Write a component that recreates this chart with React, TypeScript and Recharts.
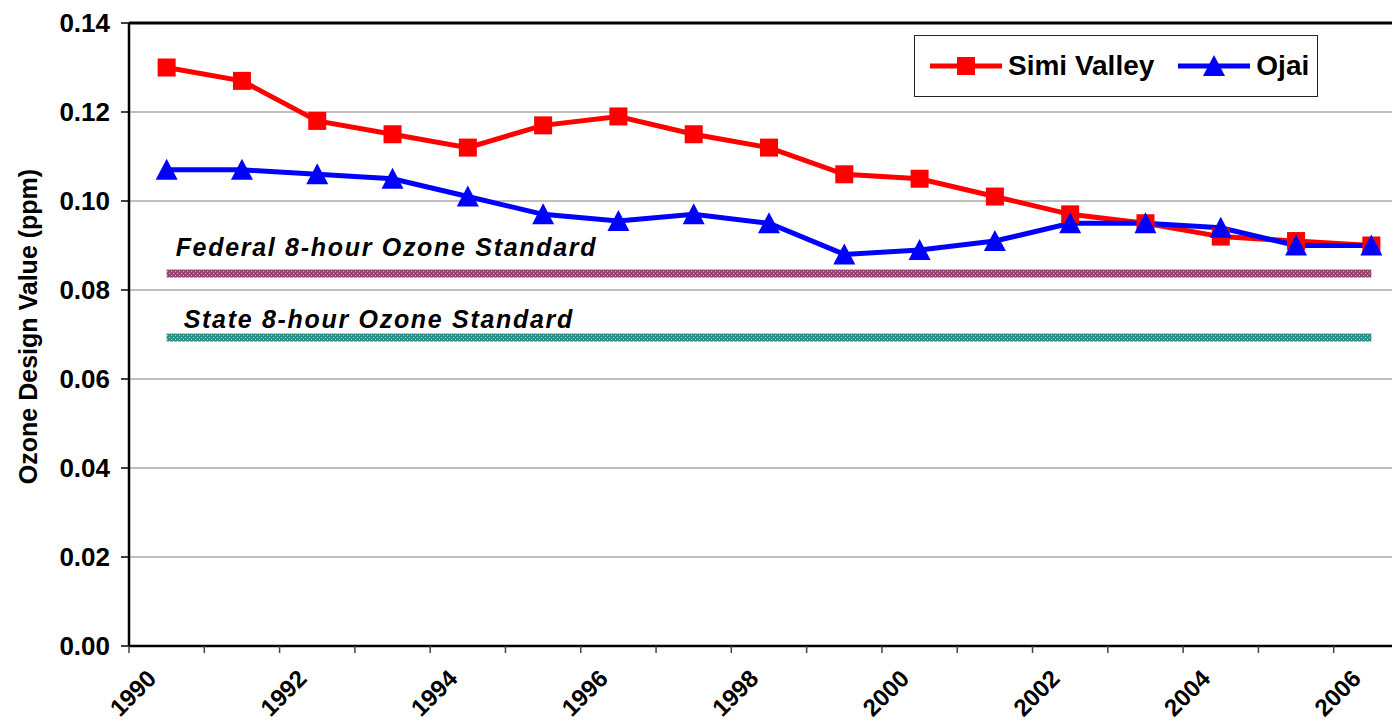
import React from "react";
import {
  CartesianGrid,
  Legend,
  Line,
  LineChart,
  ReferenceLine,
  XAxis,
  YAxis,
} from "recharts";

const years = [
  1990, 1991, 1992, 1993, 1994, 1995, 1996, 1997, 1998, 1999, 2000, 2001,
  2002, 2003, 2004, 2005, 2006,
];
const simiValley = [
  0.13, 0.127, 0.118, 0.115, 0.112, 0.117, 0.119, 0.115, 0.112, 0.106, 0.105,
  0.101, 0.097, 0.095, 0.092, 0.091, 0.09,
];
const ojai = [
  0.107, 0.107, 0.106, 0.105, 0.101, 0.097, 0.0955, 0.097, 0.095, 0.088, 0.089,
  0.091, 0.095, 0.095, 0.094, 0.09, 0.09,
];
const federalStandard = 0.0837;
const stateStandard = 0.0693;

const yTicks = [0, 0.02, 0.04, 0.06, 0.08, 0.1, 0.12, 0.14];
const yearLabels = [1990, 1992, 1994, 1996, 1998, 2000, 2002, 2004, 2006];
const yearBounds = [
  1989.5, 1990.5, 1991.5, 1992.5, 1993.5, 1994.5, 1995.5, 1996.5, 1997.5,
  1998.5, 1999.5, 2000.5, 2001.5, 2002.5, 2003.5, 2004.5, 2005.5, 2006.5,
];
const legendOrder = ["simi", "ojai"];

const rows = years.map((year, i) => ({
  year,
  simi: simiValley[i],
  ojai: ojai[i],
  federal: federalStandard,
  state: stateStandard,
}));

const FONT = "'Liberation Sans', Arial, sans-serif";

function SquareDot(props: any) {
  const { cx, cy } = props;
  if (cx == null || cy == null) return null;
  return <rect x={cx - 9} y={cy - 9} width={18} height={18} fill="#ff0000" />;
}

function TriangleDot(props: any) {
  const { cx, cy } = props;
  if (cx == null || cy == null) return null;
  return (
    <polygon
      points={`${cx},${cy - 11} ${cx - 11},${cy + 10} ${cx + 11},${cy + 10}`}
      fill="#0000ff"
    />
  );
}

function YearTick(props: any) {
  const { x, y, payload } = props;
  const v = payload.value as number;
  if (!Number.isInteger(v)) {
    return <line x1={x} y1={y} x2={x} y2={y + 7} stroke="#444" strokeWidth={1.5} />;
  }
  const ax = x - 9;
  const ay = y + 34;
  return (
    <text
      x={ax}
      y={ay}
      transform={`rotate(-45 ${ax} ${ay})`}
      textAnchor="end"
      fontFamily={FONT}
      fontWeight="bold"
      fontSize={24}
      fill="#000"
    >
      {v}
    </text>
  );
}

function bandLabel(text: string, dx: number, dy: number) {
  return (props: any) => {
    if (props.index !== 0) return null;
    return (
      <text
        x={props.x + dx}
        y={props.y + dy}
        fontFamily={FONT}
        fontWeight="bold"
        fontStyle="italic"
        fontSize={25}
        letterSpacing={1.7}
        fill="#000"
      >
        {text}
      </text>
    );
  };
}

function YTitle(props: any) {
  const vb = props.viewBox;
  const cx = vb.x + 28;
  const cy = vb.y + vb.height / 2 - 8;
  return (
    <text
      x={cx}
      y={cy}
      transform={`rotate(-90 ${cx} ${cy})`}
      textAnchor="middle"
      dominantBaseline="central"
      fontFamily={FONT}
      fontWeight="bold"
      fontSize={25}
      fill="#000"
    >
      Ozone Design Value (ppm)
    </text>
  );
}

function LegendBox(props: any) {
  const items = legendOrder
    .map((k) => (props.payload || []).find((p: any) => p.dataKey === k))
    .filter(Boolean);
  return (
    <div
      style={{
        boxSizing: "border-box",
        width: 404,
        height: 62,
        border: "1.5px solid #222",
        background: "#fff",
        display: "flex",
        alignItems: "center",
        paddingLeft: 15,
        fontFamily: FONT,
        fontWeight: "bold",
        fontSize: 28,
        color: "#000",
      }}
    >
      {items.map((p: any, i: number) => (
        <div
          key={p.dataKey}
          style={{ display: "flex", alignItems: "center", marginLeft: i ? 24 : 0 }}
        >
          <svg width={72} height={24}>
            <line x1={0} y1={12} x2={72} y2={12} stroke={p.color} strokeWidth={5} strokeLinecap="round" />
            {p.dataKey === "simi" ? (
              <rect x={27} y={3} width={18} height={18} fill={p.color} />
            ) : (
              <polygon points="36,1 25,22 47,22" fill={p.color} />
            )}
          </svg>
          <span style={{ marginLeft: 6, lineHeight: "28px" }}>{p.value}</span>
        </div>
      ))}
    </div>
  );
}

export default function App() {
  return (
    <div
      style={{
        position: "fixed",
        left: 0,
        top: 0,
        width: 1392,
        height: 723,
        overflow: "hidden",
        background: "#fff",
      }}
    >
      <LineChart
        width={1420}
        height={723}
        data={rows}
        margin={{ top: 23, right: 11, bottom: 7, left: 0 }}
      >
        <defs>
          <pattern id="fedPat" width={4} height={4} patternUnits="userSpaceOnUse">
            <rect width={4} height={4} fill="#9c4474" />
            <rect x={1} y={1} width={1} height={1} fill="#d8a8c4" />
            <rect x={3} y={3} width={1} height={1} fill="#d8a8c4" />
          </pattern>
          <pattern id="statePat" width={4} height={4} patternUnits="userSpaceOnUse">
            <rect width={4} height={4} fill="#2b8f8a" />
            <rect x={1} y={1} width={1} height={1} fill="#a8d8d4" />
            <rect x={3} y={3} width={1} height={1} fill="#a8d8d4" />
          </pattern>
        </defs>
        <CartesianGrid vertical={false} stroke="#808080" strokeWidth={1.2} />
        <XAxis
          dataKey="year"
          type="number"
          domain={[1989.5, 2006.5]}
          ticks={[...yearBounds, ...yearLabels].sort((a, b) => a - b)}
          interval={0}
          tickLine={false}
          tickSize={0}
          tickMargin={0}
          tick={<YearTick />}
          axisLine={{ stroke: "#000", strokeWidth: 2.5 }}
          height={70}
        />
        <YAxis
          domain={[0, 0.14]}
          ticks={yTicks}
          interval={0}
          width={129}
          tickFormatter={(v: number) => v.toFixed(2)}
          tick={{ fontFamily: FONT, fontWeight: "bold", fontSize: 26, fill: "#000" }}
          tickSize={8}
          tickMargin={11}
          tickLine={{ stroke: "#000", strokeWidth: 1.5 }}
          axisLine={{ stroke: "#000", strokeWidth: 2.5 }}
          label={<YTitle />}
        />
        <ReferenceLine y={0.14} stroke="#000" strokeWidth={3} />
        <Line
          dataKey="federal"
          stroke="url(#fedPat)"
          strokeWidth={8}
          dot={false}
          legendType="none"
          isAnimationActive={false}
          label={bandLabel("Federal 8-hour Ozone Standard", 9, -17.5)}
        />
        <Line
          dataKey="state"
          stroke="url(#statePat)"
          strokeWidth={8}
          dot={false}
          legendType="none"
          isAnimationActive={false}
          label={bandLabel("State 8-hour Ozone Standard", 17, -9.5)}
        />
        <Line
          dataKey="simi"
          name="Simi Valley"
          stroke="#ff0000"
          strokeWidth={5}
          dot={<SquareDot />}
          activeDot={false}
          isAnimationActive={false}
        />
        <Line
          dataKey="ojai"
          name="Ojai"
          stroke="#0000ff"
          strokeWidth={5}
          dot={<TriangleDot />}
          activeDot={false}
          isAnimationActive={false}
        />
        <Legend
          layout="horizontal"
          verticalAlign="middle"
          align="center"
          content={<LegendBox />}
          wrapperStyle={{ left: 914, top: 35, width: 404, height: 62 }}
        />
      </LineChart>
    </div>
  );
}
